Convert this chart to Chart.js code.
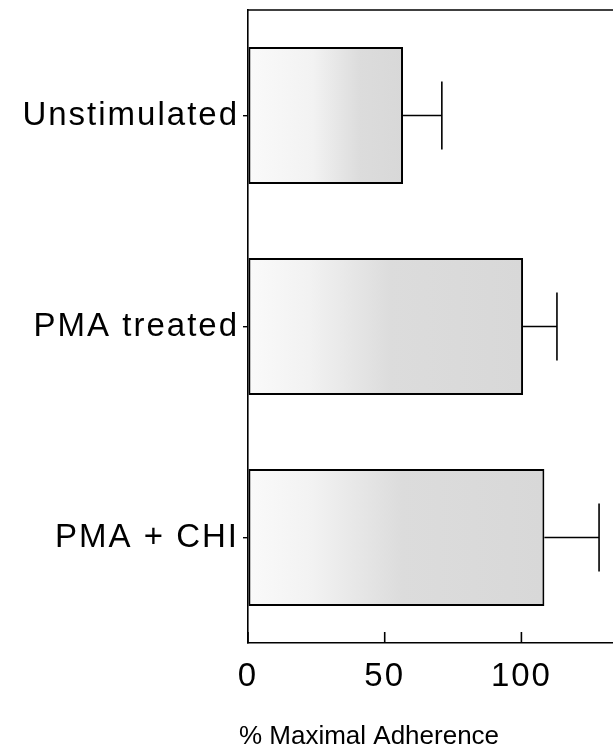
<!DOCTYPE html>
<html>
<head>
<meta charset="utf-8">
<script src="https://cdn.jsdelivr.net/npm/chart.js@4/dist/chart.umd.min.js"></script>
<style>
  html, body { margin: 0; padding: 0; background: #fff; }
  #wrap { width: 613px; height: 756px; }
</style>
</head>
<body>
<div id="wrap"><canvas id="chart" width="613" height="756"></canvas></div>
<script>
// values
var categories = ['Unstimulated', 'PMA treated', 'PMA + CHI'];
var adherence = [56.7, 100.6, 108.4];
var errors = [14.2, 12.4, 20.0];
var tickValues = [0, 50, 100];
var axisTitle = '% Maximal Adherence';

var fontFamily = '"Liberation Sans", Arial, Helvetica, sans-serif';

// gray stipple look approximated by a gradient per bar
function barFill(ctx) {
  var chart = ctx.chart;
  var xs = chart.scales && chart.scales.x;
  if (!xs || !chart.chartArea || ctx.raw === undefined) return '#e8e8e8';
  var x0 = xs.getPixelForValue(0), x1 = xs.getPixelForValue(ctx.raw);
  if (!isFinite(x0) || !isFinite(x1) || x1 <= x0) return '#e8e8e8';
  var g = chart.ctx.createLinearGradient(x0, 0, x1, 0);
  var dark = ctx.dataIndex === 0 ? 0.62 : 0.42;
  g.addColorStop(0, '#fafafa');
  g.addColorStop(dark - 0.2, '#f2f2f2');
  g.addColorStop(dark + 0.1, '#dcdcdc');
  g.addColorStop(1, '#d8d8d8');
  return g;
}

var extras = {
  id: 'extras',
  beforeDraw: function(chart) {
    chart.ctx.letterSpacing = '0px';
  },
  afterDatasetsDraw: function(chart) {
    var ctx = chart.ctx;
    var x = chart.scales.x;
    var area = chart.chartArea;
    var meta = chart.getDatasetMeta(0);
    ctx.save();
    ctx.strokeStyle = '#000';
    ctx.lineWidth = 1.6;
    // error bars
    meta.data.forEach(function(bar, i) {
      var xe = x.getPixelForValue(adherence[i] + errors[i]);
      ctx.beginPath();
      ctx.moveTo(bar.x, bar.y);
      ctx.lineTo(xe, bar.y);
      ctx.moveTo(xe, bar.y - 34);
      ctx.lineTo(xe, bar.y + 34);
      ctx.stroke();
    });
    // ticks pointing into the plot
    tickValues.forEach(function(t) {
      var px = x.getPixelForValue(t);
      ctx.beginPath();
      ctx.moveTo(px, area.bottom);
      ctx.lineTo(px, area.bottom - 11);
      ctx.stroke();
    });
    // top frame line
    ctx.beginPath();
    ctx.moveTo(area.left, area.top);
    ctx.lineTo(chart.width, area.top);
    ctx.stroke();
    // axis title, sits left of the plot centre in the original
    ctx.fillStyle = '#000';
    ctx.font = '26px ' + fontFamily;
    ctx.textAlign = 'center';
    ctx.textBaseline = 'middle';
    ctx.fillText(axisTitle, 369, 737);
    ctx.restore();
    // wider spacing for the tick labels drawn after this
    ctx.letterSpacing = '2px';
  }
};

new Chart(document.getElementById('chart'), {
  type: 'bar',
  data: {
    labels: categories,
    datasets: [{
      data: adherence,
      backgroundColor: barFill,
      borderColor: '#000',
      borderWidth: 2,
      borderSkipped: false,
      barPercentage: 0.65,
      categoryPercentage: 1
    }]
  },
  options: {
    indexAxis: 'y',
    responsive: false,
    animation: false,
    layout: { padding: { top: 10, left: 0, right: 0, bottom: 0 } },
    plugins: { legend: { display: false }, tooltip: { enabled: false } },
    scales: {
      x: {
        min: 0,
        max: 133.5,
        afterBuildTicks: function(scale) {
          scale.ticks = tickValues.map(function(v) { return { value: v }; });
        },
        afterFit: function(scale) {
          scale.height = 113;
          scale.paddingLeft = 0;
          scale.paddingRight = 0;
        },
        grid: { display: true, drawOnChartArea: false, drawTicks: false },
        border: { display: true, color: '#000', width: 1.6 },
        ticks: {
          z: 1,
          padding: 14,
          color: '#000',
          maxRotation: 0,
          font: { family: fontFamily, size: 33 }
        }
      },
      y: {
        afterFit: function(scale) {
          scale.width = 248;
          scale.paddingTop = 0;
          scale.paddingBottom = 0;
        },
        grid: {
          display: true,
          offset: false,
          drawOnChartArea: false,
          drawTicks: true,
          tickLength: 5,
          color: '#000',
          lineWidth: 1.4
        },
        border: { display: true, color: '#000', width: 1.6 },
        ticks: {
          z: 1,
          padding: 4,
          color: '#000',
          font: { family: fontFamily, size: 33 }
        }
      }
    }
  },
  plugins: [extras]
});
</script>
</body>
</html>
